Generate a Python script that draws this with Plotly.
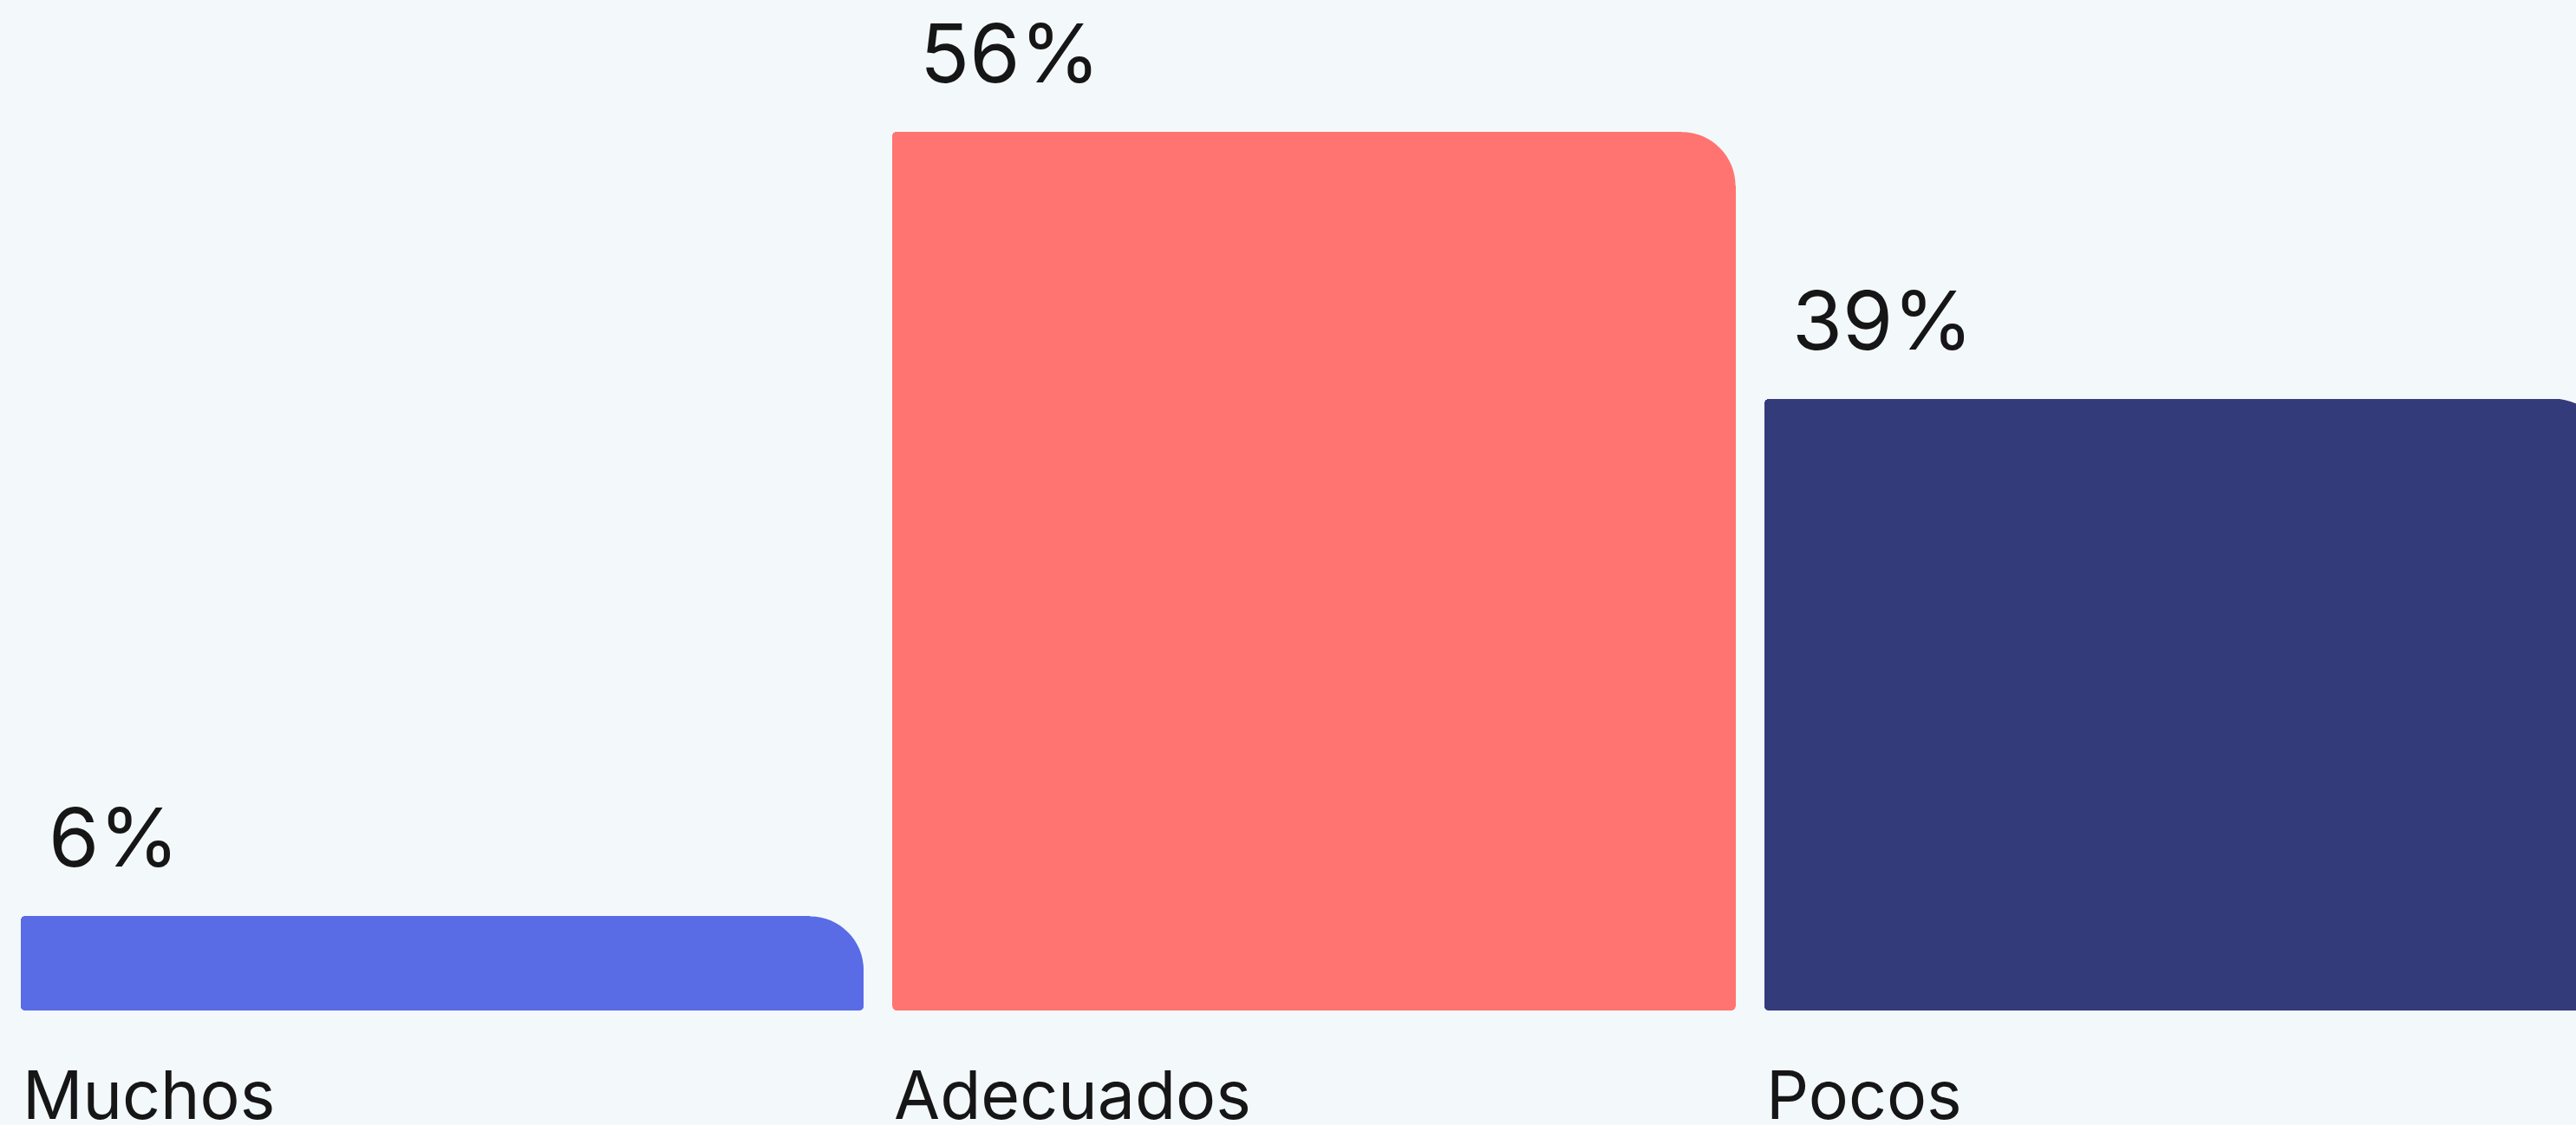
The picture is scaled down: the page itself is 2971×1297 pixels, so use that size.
import plotly.graph_objects as go

# ---- data ----
categories = ["Muchos", "Adecuados", "Pocos"]
values = [6, 56, 39]
value_labels = ["6%", "56%", "39%"]
colors = ["#5A6BE6", "#FF7471", "#333B7B"]

BG = "#F3F8FB"
TXT = "#161616"
W, H = 2971, 1297
bar_w = 0.967
big_r = 62
small_r = 5

xs = list(range(len(categories)))

fig = go.Figure()
fig.add_trace(go.Bar(
    x=xs, y=values, width=bar_w,
    marker=dict(color=colors, line=dict(width=0), cornerradius=small_r),
    hoverinfo="skip", showlegend=False,
))

k = 0.5523


def corner_mask(r, corner):
    # pixel path relative to anchor; y positive upward
    kk = k * r
    e = 2
    if corner == "tr":
        return (f"M {-r},{e} L {e},{e} L {e},{-r} L 0,{-r} "
                f"C 0,{-r + kk} {-r + kk},0 {-r},0 Z")
    if corner == "br":
        return (f"M {-r},{-e} L {e},{-e} L {e},{r} L 0,{r} "
                f"C 0,{r - kk} {-r + kk},0 {-r},0 Z")
    if corner == "bl":
        return (f"M {r},{-e} L {-e},{-e} L {-e},{r} L 0,{r} "
                f"C 0,{r - kk} {r - kk},0 {r},0 Z")


for i, v in zip(xs, values):
    right = i + bar_w / 2
    left = i - bar_w / 2
    for anchor_x, anchor_y, corner, r in [
        (right, v, "tr", big_r),
        (right, 0, "br", small_r),
        (left, 0, "bl", small_r),
    ]:
        fig.add_shape(
            type="path", xref="x", yref="y",
            xsizemode="pixel", ysizemode="pixel",
            xanchor=anchor_x, yanchor=anchor_y,
            path=corner_mask(r, corner),
            fillcolor=BG, line=dict(width=0), layer="above",
        )
    # value label
    fig.add_annotation(
        x=left, y=v, xref="x", yref="y",
        text=value_labels[i], showarrow=False,
        xanchor="left", yanchor="bottom", xshift=30, yshift=32,
        font=dict(family="Inter", size=94, color=TXT),
    )
    # category label
    fig.add_annotation(
        x=left, y=0, xref="x", yref="y",
        text=categories[i], showarrow=False,
        xanchor="left", yanchor="top", xshift=0, yshift=-48,
        font=dict(family="Inter", size=77, color=TXT),
    )

unit = 1005.5
x_left = -510 / unit
x_right = (W - 510) / unit
px_per = 18.085
base_px = 1165
y_top = base_px / px_per
y_bot = -(H - base_px) / px_per

fig.update_layout(
    width=W, height=H,
    margin=dict(l=0, r=0, t=0, b=0),
    paper_bgcolor=BG, plot_bgcolor=BG,
    xaxis=dict(range=[x_left, x_right], visible=False, fixedrange=True),
    yaxis=dict(range=[y_bot, y_top], visible=False, fixedrange=True),
    bargap=0,
)

fig.write_html(
    "out.html",
    config={"displayModeBar": False},
    post_script=(
        "document.body.style.margin='0';"
        "document.body.style.overflow='hidden';"
        "document.body.style.background='#F3F8FB';"
    ),
)
